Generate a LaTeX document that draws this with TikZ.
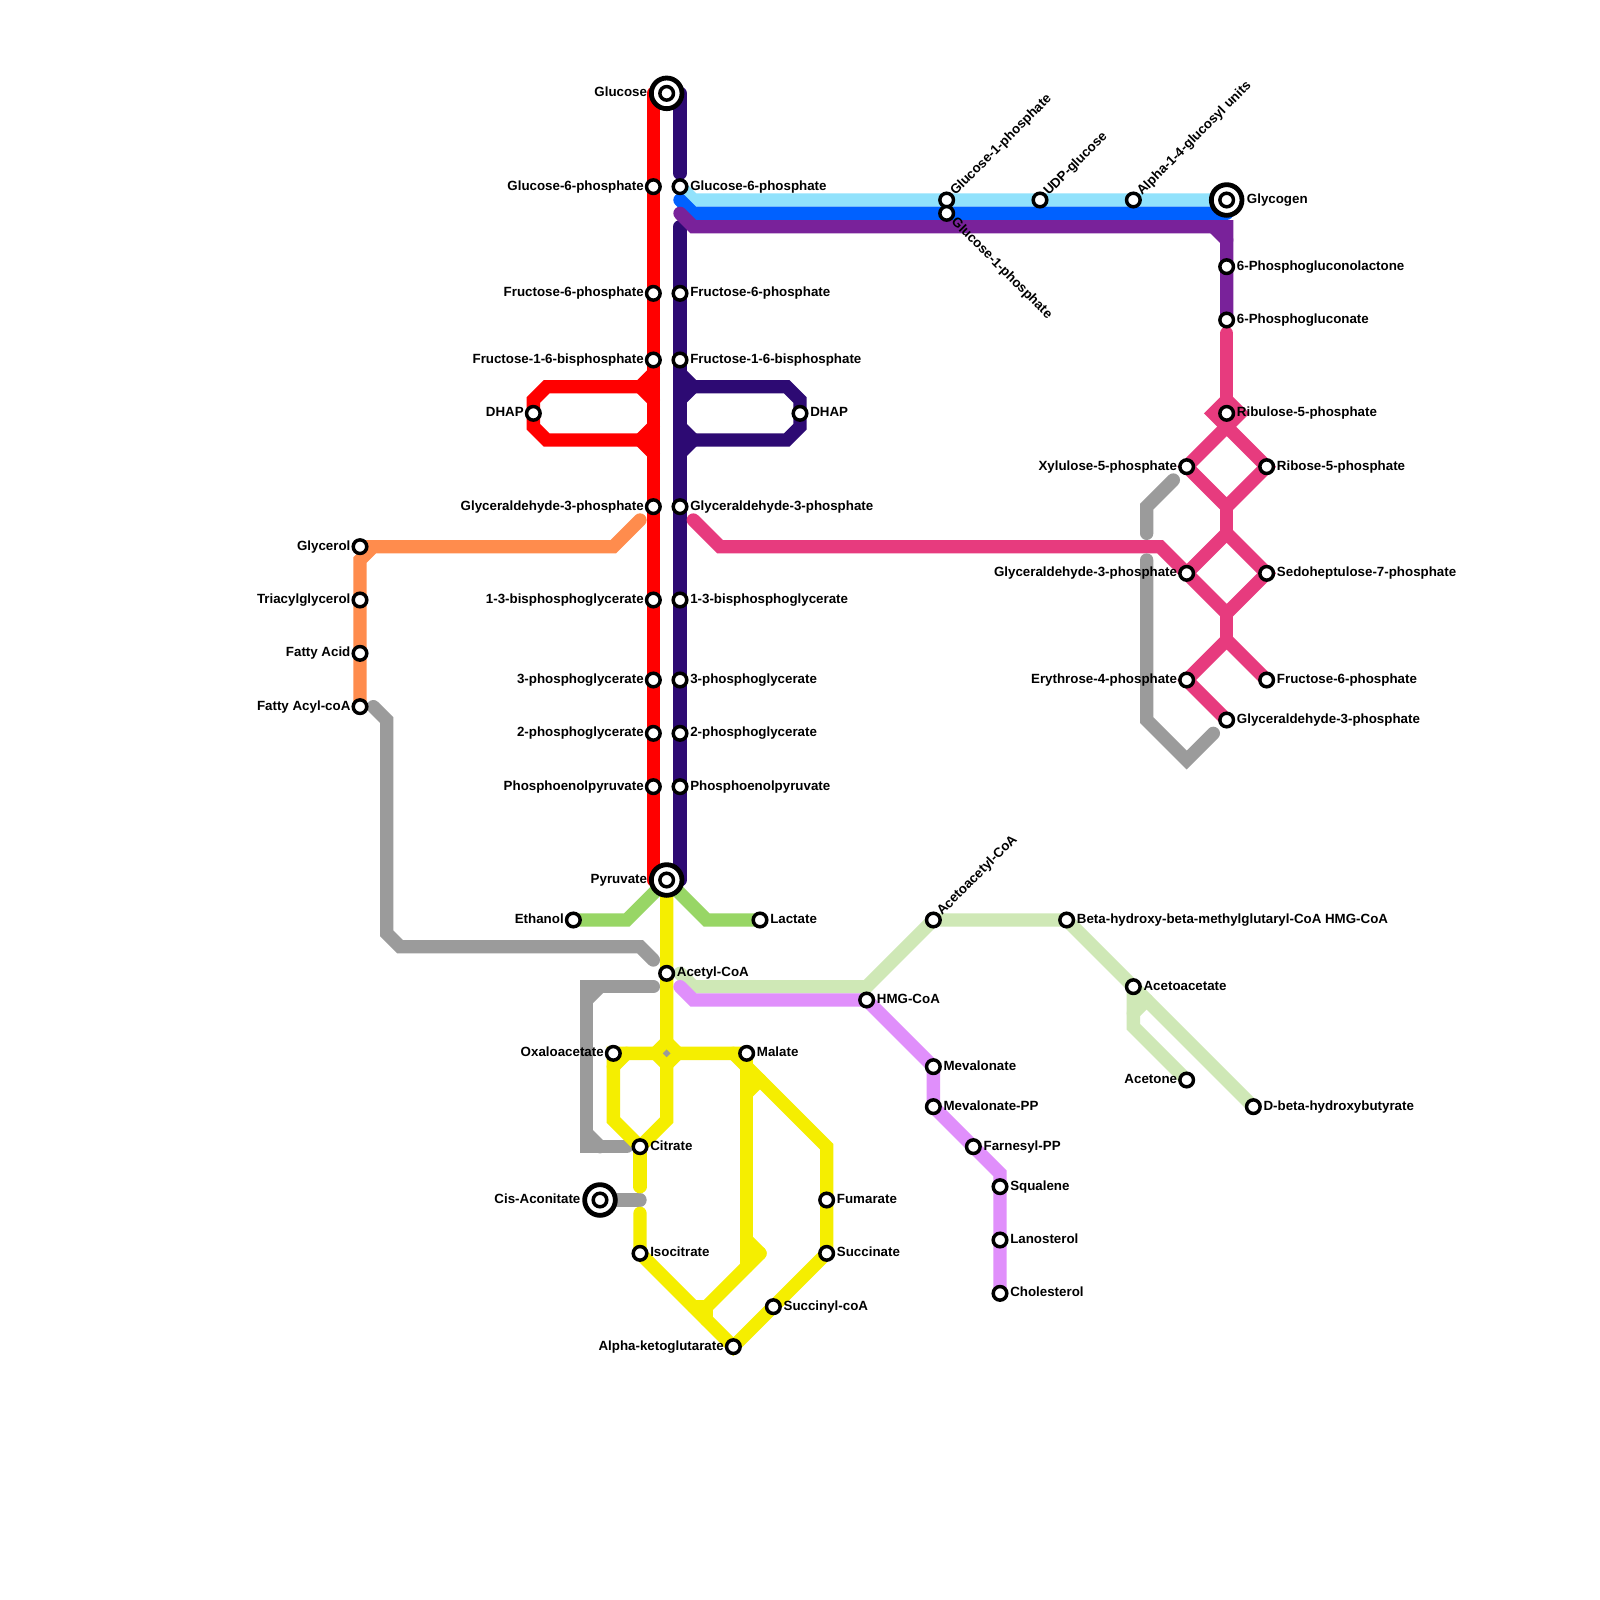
\documentclass[tikz,border=0pt]{standalone}
\usepackage{fontspec}
\setmainfont{Liberation Sans}
\usetikzlibrary{shapes.geometric}
\pgfdeclarelayer{bg}
\pgfsetlayers{bg,main}
\definecolor{cred}{HTML}{FF0000}
\definecolor{cdark}{HTML}{2D0A73}
\definecolor{csky}{HTML}{91E2FC}
\definecolor{cblue}{HTML}{0061FF}
\definecolor{cpurple}{HTML}{79229A}
\definecolor{corange}{HTML}{FF8C4D}
\definecolor{cgray}{HTML}{9B9B9B}
\definecolor{cpink}{HTML}{E73B7E}
\definecolor{cgreen}{HTML}{98D665}
\definecolor{cyellow}{HTML}{F5EE00}
\definecolor{cpale}{HTML}{CFE8B6}
\definecolor{clilac}{HTML}{E08FFB}
\tikzset{
 st/.style={circle,draw=black,fill=white,line width=2.6pt,minimum size=10.2pt,inner sep=0pt},
 ring/.style={circle,draw=black,fill=white,line width=3.6pt,minimum size=23pt,inner sep=0pt},
 lab/.style={font=\bfseries\fontsize{10}{12}\selectfont,inner sep=0pt,text=black},
 metro/.style={line width=10pt,line cap=round,line join=miter,miter limit=4},
}
\newcommand{\StR}[4]{\node[st] (#1) at (#2,#3) {}; \node[lab,anchor=base west] (#1-t) at (#2+.75,#3+.26) {#4};}
\newcommand{\StL}[4]{\node[st] (#1) at (#2,#3) {}; \node[lab,anchor=base east] (#1-t) at (#2-.7,#3+.26) {#4};}
\newcommand{\StU}[4]{\node[st] (#1) at (#2,#3) {}; \node[lab,anchor=base west,rotate=45] (#1-t) at (#2+.65,#3-.3) {#4};}
\newcommand{\StD}[4]{\node[st] (#1) at (#2,#3) {}; \node[lab,anchor=base west,rotate=-45] (#1-t) at (#2+.3,#3+.7) {#4};}
\newcommand{\IcR}[4]{\node[ring] (#1-r) at (#2,#3) {}; \node[st] (#1) at (#2,#3) {}; \node[lab,anchor=base west] (#1-t) at (#2+1.5,#3+.26) {#4};}
\newcommand{\IcL}[4]{\node[ring] (#1-r) at (#2,#3) {}; \node[st] (#1) at (#2,#3) {}; \node[lab,anchor=base east] (#1-t) at (#2-1.45,#3+.26) {#4};}
\begin{document}
\begin{tikzpicture}[x=10pt,y=-10pt]
\useasboundingbox (0,0) rectangle (120,120);
% named bend points
\foreach \x/\y in {49/7,51/7,51/13,51/17,49/66,51/66,49/28,49/30,49/32,49/34,48/29,48/33,41/29,41/33,40/30,40/32,
 51/28,51/30,51/32,51/34,52/29,52/33,59/29,59/33,60/30,60/32,
 52/15,51/15,52/16,92/16,91/16,51/16,52/17,92/17,91/17,92/18,
 92/25,92/30,91/31,92/32,93/31,92/38,92/40,92/46,92/48,
 52/39,54/41,87/41,
 88/36,86/38,86/40,86/42,86/54,89/57,91/55,
 27/42,28/41,46/41,48/39,
 28/53,29/54,29/70,30/71,48/71,49/72,
 47/69,53/69,
 49/74,44/74,44/86,47/86,45/74,44/75,44/85,45/86,48/90,
 46/84,46/80,47/79,50/84,50/79,48/89,48/91,
 53/99,56/80,62/86,55/79,56/82,57/81,56/95,56/93,57/94,53/98,52/98,
 51/73,52/74,65/74,85/77,85/76,86/75,
 51/74,52/75,75/88} {
 \coordinate (p\x-\y) at (\x,\y);
}
% stations, left column
\IcL{glu}{50}{7}{Glucose}
\StL{gsixL}{49}{14}{Glucose-6-phosphate}
\StL{fsixL}{49}{22}{Fructose-6-phosphate}
\StL{fbpL}{49}{27}{Fructose-1-6-bisphosphate}
\StL{dhapL}{40}{31}{DHAP}
\StL{gapL}{49}{38}{Glyceraldehyde-3-phosphate}
\StL{bpgL}{49}{45}{1-3-bisphosphoglycerate}
\StL{tpgL}{49}{51}{3-phosphoglycerate}
\StL{spgL}{49}{55}{2-phosphoglycerate}
\StL{pepL}{49}{59}{Phosphoenolpyruvate}
\IcL{pyr}{50}{66}{Pyruvate}
% right column
\StR{gsixR}{51}{14}{Glucose-6-phosphate}
\StR{fsixR}{51}{22}{Fructose-6-phosphate}
\StR{fbpR}{51}{27}{Fructose-1-6-bisphosphate}
\StR{dhapR}{60}{31}{DHAP}
\StR{gapR}{51}{38}{Glyceraldehyde-3-phosphate}
\StR{bpgR}{51}{45}{1-3-bisphosphoglycerate}
\StR{tpgR}{51}{51}{3-phosphoglycerate}
\StR{spgR}{51}{55}{2-phosphoglycerate}
\StR{pepR}{51}{59}{Phosphoenolpyruvate}
% glycogen and pentose
\StU{gopa}{71}{15}{Glucose-1-phosphate}
\StD{gopb}{71}{16}{Glucose-1-phosphate}
\StU{udp}{78}{15}{UDP-glucose}
\StU{alp}{85}{15}{Alpha-1-4-glucosyl units}
\IcR{gly}{92}{15}{Glycogen}
\StR{pgl}{92}{20}{6-Phosphogluconolactone}
\StR{pgn}{92}{24}{6-Phosphogluconate}
\StR{rul}{92}{31}{Ribulose-5-phosphate}
\StL{xyl}{89}{35}{Xylulose-5-phosphate}
\StR{rib}{95}{35}{Ribose-5-phosphate}
\StL{gapP}{89}{43}{Glyceraldehyde-3-phosphate}
\StR{sed}{95}{43}{Sedoheptulose-7-phosphate}
\StL{ery}{89}{51}{Erythrose-4-phosphate}
\StR{fsixP}{95}{51}{Fructose-6-phosphate}
\StR{gapQ}{92}{54}{Glyceraldehyde-3-phosphate}
% lipids
\StL{gcl}{27}{41}{Glycerol}
\StL{tag}{27}{45}{Triacylglycerol}
\StL{ffa}{27}{49}{Fatty Acid}
\StL{fac}{27}{53}{Fatty Acyl-coA}
% TCA
\StL{eth}{43}{69}{Ethanol}
\StR{lac}{57}{69}{Lactate}
\StR{aco}{50}{73}{Acetyl-CoA}
\StL{oxa}{46}{79}{Oxaloacetate}
\StR{mal}{56}{79}{Malate}
\StR{cit}{48}{86}{Citrate}
\IcL{cis}{45}{90}{Cis-Aconitate}
\StR{iso}{48}{94}{Isocitrate}
\StR{fum}{62}{90}{Fumarate}
\StR{suc}{62}{94}{Succinate}
\StR{scc}{58}{98}{Succinyl-coA}
\StL{akg}{55}{101}{Alpha-ketoglutarate}
% ketones and sterols
\StU{aca}{70}{69}{Acetoacetyl-CoA}
\StR{hmb}{80}{69}{Beta-hydroxy-beta-methylglutaryl-CoA HMG-CoA}
\StR{acc}{85}{74}{Acetoacetate}
\StL{ace}{89}{81}{Acetone}
\StR{dbh}{94}{83}{D-beta-hydroxybutyrate}
\StR{hmg}{65}{75}{HMG-CoA}
\StR{mev}{70}{80}{Mevalonate}
\StR{mpp}{70}{83}{Mevalonate-PP}
\StR{far}{73}{86}{Farnesyl-PP}
\StR{squ}{75}{89}{Squalene}
\StR{lan}{75}{93}{Lanosterol}
\StR{cho}{75}{97}{Cholesterol}
\begin{pgfonlayer}{bg}
\fill[white] (0,0) rectangle (120,120);
\begin{scope}[metro]
% glycolysis
\draw[cred] (p49-7) -- (gsixL.center) -- (fsixL.center) -- (fbpL.center) -- (gapL.center) -- (bpgL.center) -- (tpgL.center) -- (spgL.center) -- (pepL.center) -- (p49-66);
\draw[cred] (p48-29) -- (p41-29) -- (p40-30) -- (dhapL.center) -- (p40-32) -- (p41-33) -- (p48-33);
\draw[cred] (p49-28) -- (p48-29) -- (p49-30);
\draw[cred] (p49-32) -- (p48-33) -- (p49-34);
\draw[cdark] (p51-7) -- (p51-13);
\draw[cdark] (p51-17) -- (fsixR.center) -- (fbpR.center) -- (gapR.center) -- (bpgR.center) -- (tpgR.center) -- (spgR.center) -- (pepR.center) -- (p51-66);
\draw[cdark] (p52-29) -- (p59-29) -- (p60-30) -- (dhapR.center) -- (p60-32) -- (p59-33) -- (p52-33);
\draw[cdark] (p51-28) -- (p52-29) -- (p51-30);
\draw[cdark] (p51-32) -- (p52-33) -- (p51-34);
% glycogen
\draw[csky] (gsixR.center) -- (p52-15) -- (gopa.center) -- (udp.center) -- (alp.center) -- (gly.center);
\draw[cblue] (p51-15) -- (p52-16) -- (gopb.center) -- (p92-16);
\draw[cpurple] (p51-16) -- (p52-17) -- (p92-17) -- (pgl.center) -- (pgn.center);
\draw[cpurple] (p91-17) -- (p92-18);
% pentose phosphate
\draw[cpink] (p92-25) -- (p92-30);
\draw[cpink] (p92-30) -- (p91-31) -- (p92-32) -- (p93-31) -- cycle;
\draw[cpink] (p92-32) -- (xyl.center) -- (p92-38) -- (rib.center) -- (p92-32);
\draw[cpink] (p92-38) -- (p92-40);
\draw[cpink] (p92-40) -- (gapP.center) -- (p92-46) -- (sed.center) -- (p92-40);
\draw[cpink] (p92-46) -- (p92-48);
\draw[cpink] (gapQ.center) -- (ery.center) -- (p92-48) -- (fsixP.center);
\draw[cpink] (p52-39) -- (p54-41) -- (p87-41) -- (gapP.center);
\draw[cgray] (p88-36) -- (p86-38) -- (p86-40);
\draw[cgray] (p86-42) -- (p86-54) -- (p89-57) -- (p91-55);
% lipids
\draw[corange] (fac.center) -- (ffa.center) -- (tag.center) -- (p27-42) -- (p28-41) -- (p46-41) -- (p48-39);
\draw[corange] (gcl.center) -- (p28-41);
\draw[cgray] (p28-53) -- (p29-54) -- (p29-70) -- (p30-71) -- (p48-71) -- (p49-72);
% fermentation
\draw[cgreen] (eth.center) -- (p47-69) -- (pyr.center) -- (p53-69) -- (lac.center);
% TCA
\draw[cgray] (p49-74) -- (p44-74) -- (p44-86) -- (p47-86);
\draw[cgray] (p45-74) -- (p44-75);
\draw[cgray] (p44-85) -- (p45-86);
\draw[cgray] (cis.center) -- (p48-90);
\draw[cyellow] (pyr.center) -- (aco.center) -- (p50-84) -- (cit.center) -- (p46-84) -- (oxa.center) -- (mal.center);
\node[diamond,fill=cyellow,draw=none,inner sep=0pt,minimum width=35pt,minimum height=35pt] (hub) at (p50-79) {};
\draw[cyellow] (p46-80) -- (p47-79);
\draw[cyellow] (cit.center) -- (p48-89);
\draw[cyellow] (p48-91) -- (iso.center) -- (akg.center) -- (scc.center) -- (suc.center) -- (fum.center) -- (p62-86) -- (p56-80);
\draw[cyellow] (mal.center) -- (p56-95);
\draw[cyellow] (p55-79) -- (p56-80);
\draw[cyellow] (p56-82) -- (p57-81);
\draw[cyellow] (p56-93) -- (p57-94);
\draw[cyellow] (p57-94) -- (p53-98);
\draw[cyellow] (p52-98) -- (p53-98) -- (p53-99);
% ketones
\draw[cpale] (p51-73) -- (p52-74) -- (p65-74) -- (aca.center) -- (hmb.center) -- (acc.center) -- (dbh.center);
\draw[cpale] (acc.center) -- (p85-77) -- (ace.center);
\draw[cpale] (p85-76) -- (p86-75);
% sterols
\draw[clilac] (p51-74) -- (p52-75) -- (hmg.center) -- (mev.center) -- (mpp.center) -- (far.center) -- (p75-88) -- (squ.center) -- (lan.center) -- (cho.center);
\end{scope}
\end{pgfonlayer}
\node[diamond,fill=cgray,draw=none,inner sep=0pt,minimum width=6pt,minimum height=6pt] (hubmark) at (p50-79) {};
\end{tikzpicture}
\end{document}
